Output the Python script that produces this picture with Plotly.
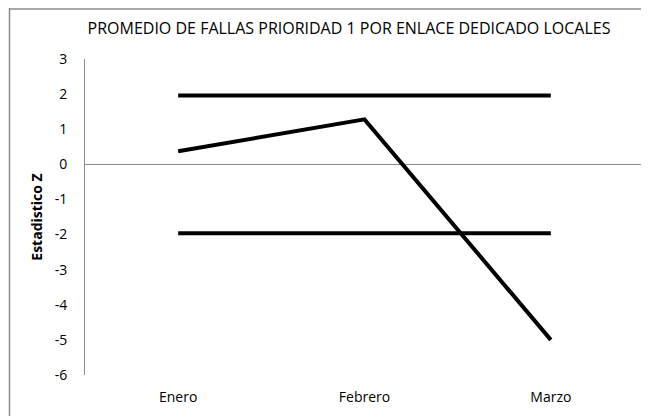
import plotly.graph_objects as go

meses = ["Enero", "Febrero", "Marzo"]
z_valores = [0.37, 1.28, -5.0]
limite_sup = [1.96, 1.96, 1.96]
limite_inf = [-1.96, -1.96, -1.96]
y_ticks = [3, 2, 1, 0, -1, -2, -3, -4, -5, -6]
y_tick_text = ["3", "2", "1", "0", "-1", "-2", "-3", "-4", "-5", "-6"]

fig = go.Figure()
for serie in [limite_sup, limite_inf, z_valores]:
    fig.add_trace(go.Scatter(x=meses, y=serie, mode="lines",
                             line=dict(color="black", width=4), showlegend=False,
                             hoverinfo="skip"))

# page body has an 8px margin, so the figure starts at (8, 8) in the window
OFF = 8
W, H = 649 - OFF, 416 - OFF
L, T = 85 - OFF, 59 - OFF
R = W - (644 - OFF)
B = H - (375 - OFF)
pw, ph = W - L - R, H - T - B

fig.update_layout(
    width=W, height=H,
    margin=dict(l=L, r=R, t=T, b=B, autoexpand=False),
    paper_bgcolor="white", plot_bgcolor="white",
    font=dict(family="Open Sans, Liberation Sans, sans-serif", size=13, color="black"),
    title=dict(text="PROMEDIO DE FALLAS PRIORIDAD 1 POR ENLACE DEDICADO LOCALES",
               x=(349 - OFF) / W, xanchor="center", xref="container",
               y=1 - (28 - OFF) / H, yanchor="middle", yref="container",
               font=dict(size=16, color="black")),
    xaxis=dict(range=[-0.5, 2.5], showgrid=False, showline=False, ticks="", zeroline=False,
               ticklabelstandoff=12, tickfont=dict(size=14)),
    yaxis=dict(range=[-6, 3], tickvals=y_ticks, ticktext=y_tick_text, showgrid=False,
               showline=True, linecolor="#8c8c8c", linewidth=1, ticks="",
               zeroline=True, zerolinecolor="#8c8c8c", zerolinewidth=1,
               ticklabelstandoff=14, tickfont=dict(size=14),
               title=dict(text="<b>Estadistico Z</b>", font=dict(size=14), standoff=8)),
    shapes=[
        dict(type="line", xref="paper", yref="paper",
             x0=(1.5 - L) / pw, x1=(1.5 - L) / pw, y0=-B / ph, y1=(H - B) / ph,
             line=dict(color="#8c8c8c", width=1.5)),
        dict(type="line", xref="paper", yref="paper",
             x0=(1.5 - L) / pw, x1=(W - L) / pw, y0=(H - B - 1) / ph, y1=(H - B - 1) / ph,
             line=dict(color="#8c8c8c", width=1.5)),
    ],
)

fig.write_html("out.html")
